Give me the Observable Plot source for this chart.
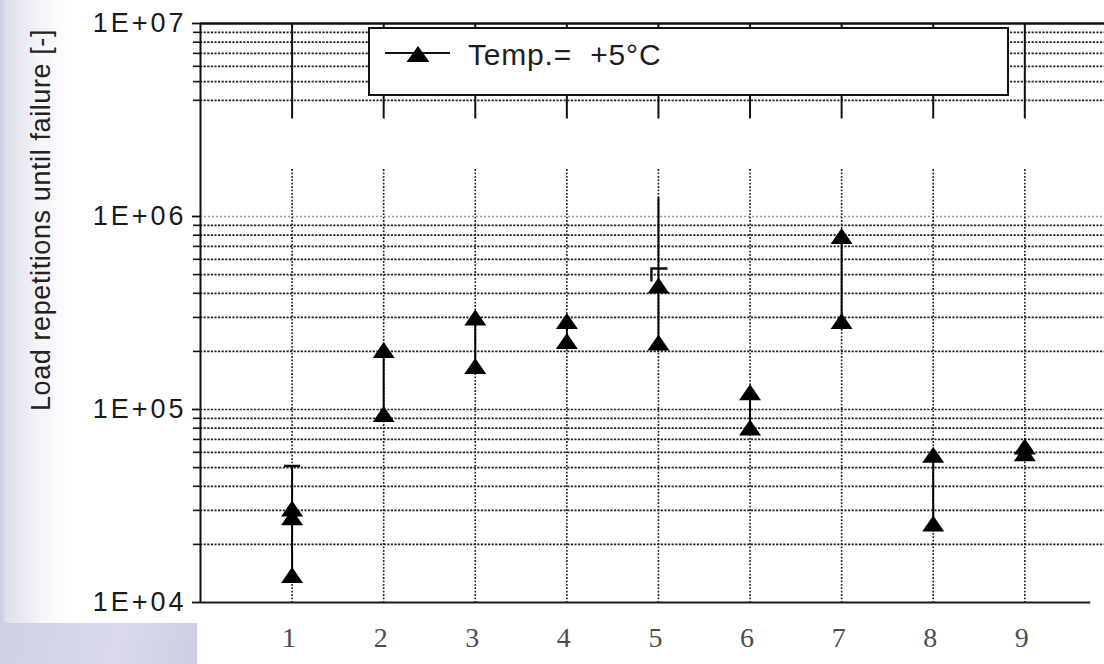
<!DOCTYPE html>
<html>
<head>
<meta charset="utf-8">
<script src="https://cdn.jsdelivr.net/npm/d3@7"></script>
<script src="https://cdn.jsdelivr.net/npm/@observablehq/plot@0.6"></script>
<style>
  html, body { margin: 0; padding: 0; }
  body { width: 1104px; height: 664px; position: relative; overflow: hidden; background: #ffffff;
         font-family: "Liberation Sans", Arial, sans-serif; }
  #bgLeft { position: absolute; left: 0; top: 0; width: 75px; height: 623px;
            background: linear-gradient(to right, rgba(200,200,222,0.95) 0px, rgba(214,214,232,0.75) 7px, rgba(232,232,242,0.45) 40px, rgba(255,255,255,0) 75px); }
  #bgCorner { position: absolute; left: 0; top: 623px; width: 197px; height: 41px;
              background: linear-gradient(100deg, #cfd0e2 0%, #d9d9e9 60%, #cdcee0 100%); }
  #chart { position: absolute; left: 0; top: 0; }
  #ytitle { position: absolute; left: 41px; top: 220px; transform: translate(-50%, -50%) rotate(-90deg);
            white-space: nowrap; font-size: 27px; line-height: 31px; color: #222; letter-spacing: 0.6px; }
  #legend { position: absolute; left: 368px; top: 27px; width: 641px; height: 69px; box-sizing: border-box;
            border: 2px solid #111; background: #fff; }
  #legend svg { position: absolute; left: 15px; top: 10px; }
  #legend .lbl { position: absolute; left: 98px; top: 9px; font-size: 30px; line-height: 34px; color: #1e1e1e;
                 white-space: pre; letter-spacing: 0.8px; }
  g[aria-label="y-axis tick label"] text { letter-spacing: 3px; }
</style>
</head>
<body>
<div id="bgLeft"></div>
<div id="bgCorner"></div>
<div id="chart"></div>
<div id="ytitle">Load repetitions until failure [-]</div>
<div id="legend">
  <svg width="66" height="30" viewBox="0 0 66 30">
    <line x1="0" y1="14" x2="65" y2="14" stroke="#111" stroke-width="2"></line>
    <path d="M33,7 L44.5,23 L21.5,23 Z" fill="#000"></path>
  </svg>
  <span class="lbl">Temp.=  +5°C</span>
</div>
<script>
// ---- data ----
const categories = [1, 2, 3, 4, 5, 6, 7, 8, 9];
const xTickLabels = ["1", "2", "3", "4", "5", "6", "7", "8", "9"];
const upperValues = [30500, 202000, 298000, 286000, 437000, 122000, 787000, 58000, 64000];
const lowerValues = [13800, 94200, 167000, 225000, 221000, 80200, 286000, 25500, 59000];
const extraCategories = [1];
const extraValues = [27500];
const whiskerCategories = [1, 5];
const whiskerTops = [51000, 1250000];
const capCategories = [1];
const capValues = [51000];
const bracketCategories = [5];
const bracketValues = [495000];
const yTickValues = [1e4, 1e5, 1e6, 1e7];
const yTickLabels = ["1E+04", "1E+05", "1E+06", "1E+07"];
const minorGrid = [2e4, 3e4, 4e4, 5e4, 6e4, 7e4, 8e4, 9e4,
                   1e5, 2e5, 3e5, 4e5, 5e5, 6e5, 7e5, 8e5, 9e5,
                   4e6, 5e6, 6e6, 7e6, 8e6, 9e6];
const faintGrid = [1e6];
const minorTicks = [2e4, 3e4, 4e4, 5e4, 6e4, 7e4, 8e4, 9e4,
                    2e5, 3e5, 4e5, 5e5, 6e5, 7e5, 8e5, 9e5,
                    4e6, 5e6, 6e6, 7e6, 8e6, 9e6];

// ---- derived tables ----
const points = categories.flatMap((c, i) => [
  {cat: c, value: upperValues[i]},
  {cat: c, value: lowerValues[i]}
]).concat(extraCategories.map((c, i) => ({cat: c, value: extraValues[i]})));
const ranges = categories.map((c, i) => ({cat: c, lo: lowerValues[i], hi: upperValues[i]}));
const whiskers = whiskerCategories.map((c, i) => ({cat: c, top: whiskerTops[i], hi: upperValues[categories.indexOf(c)]}));
const caps = capCategories.map((c, i) => ({cat: c, value: capValues[i]}));
const brackets = bracketCategories.map((c, i) => ({cat: c, value: bracketValues[i]}));

const flatTriangle = { draw(ctx) { ctx.moveTo(0, -8.5); ctx.lineTo(11, 7.5); ctx.lineTo(-11, 7.5); ctx.closePath(); } };
const capSymbol = { draw(ctx) { ctx.moveTo(-8, 0); ctx.lineTo(8, 0); } };
const bracketSymbol = { draw(ctx) { ctx.moveTo(9, -7); ctx.lineTo(-7, -7); ctx.lineTo(-7, 6); } };

const chart = Plot.plot({
  width: 1104,
  height: 664,
  marginLeft: 200,
  marginRight: 0,
  marginTop: 23,
  marginBottom: 62,
  style: { background: "transparent", overflow: "visible" },
  x: { type: "linear", domain: [0, 9.87], axis: null, label: null },
  y: { type: "log", domain: [1e4, 1e7], axis: null, label: null },
  marks: [
    // horizontal dotted gridlines
    Plot.ruleY(minorGrid, { y: d => d, stroke: "#222", strokeWidth: 1.7, strokeDasharray: "2.2,1.4" }),
    Plot.ruleY(faintGrid, { y: d => d, stroke: "#9a9a9a", strokeWidth: 1.3, strokeDasharray: "2,2" }),
    // vertical gridlines: solid upper part, dotted lower part
    Plot.ruleX(categories, { x: d => d, y1: () => 1e7, y2: () => 3.2e6, stroke: "#111", strokeWidth: 2 }),
    Plot.ruleX(categories, { x: d => d, y1: () => 1.75e6, y2: () => 1e4, stroke: "#222", strokeWidth: 1.6, strokeDasharray: "1.8,1.6" }),
    // frame
    Plot.ruleY([1e7], { y: d => d, stroke: "#111", strokeWidth: 2.5 }),
    Plot.ruleY([1e4], { y: d => d, x1: () => 0, x2: () => 9.72, stroke: "#1a1a1a", strokeWidth: 2 }),
    Plot.ruleX([0], { x: d => d, y1: () => 1e4, y2: () => 1e7, stroke: "#111", strokeWidth: 2 }),
    // axes
    Plot.axisY({ ticks: minorTicks, tickSize: 7, tickFormat: () => "", label: null, stroke: "#111", strokeWidth: 1.6 }),
    Plot.axisY({ ticks: yTickValues, tickSize: 8, tickPadding: 6, strokeWidth: 1.8, stroke: "#111", label: null,
                 tickFormat: d => yTickLabels[yTickValues.indexOf(d)],
                 fontSize: 27, fontFamily: "Liberation Sans, Arial, sans-serif", fill: "#1a1a1a" }),
    Plot.axisX({ ticks: categories, tickSize: 0, tickPadding: 25, dx: -3, label: null,
                 tickFormat: d => xTickLabels[categories.indexOf(d)],
                 fontSize: 28, fontFamily: "Liberation Serif, Times New Roman, serif", fill: "#4d4d4d" }),
    // data
    Plot.dot(brackets, { x: "cat", y: "value", symbol: bracketSymbol, r: 6, fill: "none", stroke: "#111", strokeWidth: 2.4 }),
    Plot.ruleX(whiskers, { x: "cat", y1: "top", y2: "hi", stroke: "#000", strokeWidth: 2 }),
    Plot.ruleX(ranges, { x: "cat", y1: "lo", y2: "hi", stroke: "#000", strokeWidth: 2 }),
    Plot.dot(caps, { x: "cat", y: "value", symbol: capSymbol, r: 6, fill: "none", stroke: "#111", strokeWidth: 2.4 }),
    Plot.dot(points, { x: "cat", y: "value", symbol: flatTriangle, r: 8, fill: "#000", stroke: "none" })
  ]
});
document.getElementById("chart").appendChild(chart);
</script>
</body>
</html>
